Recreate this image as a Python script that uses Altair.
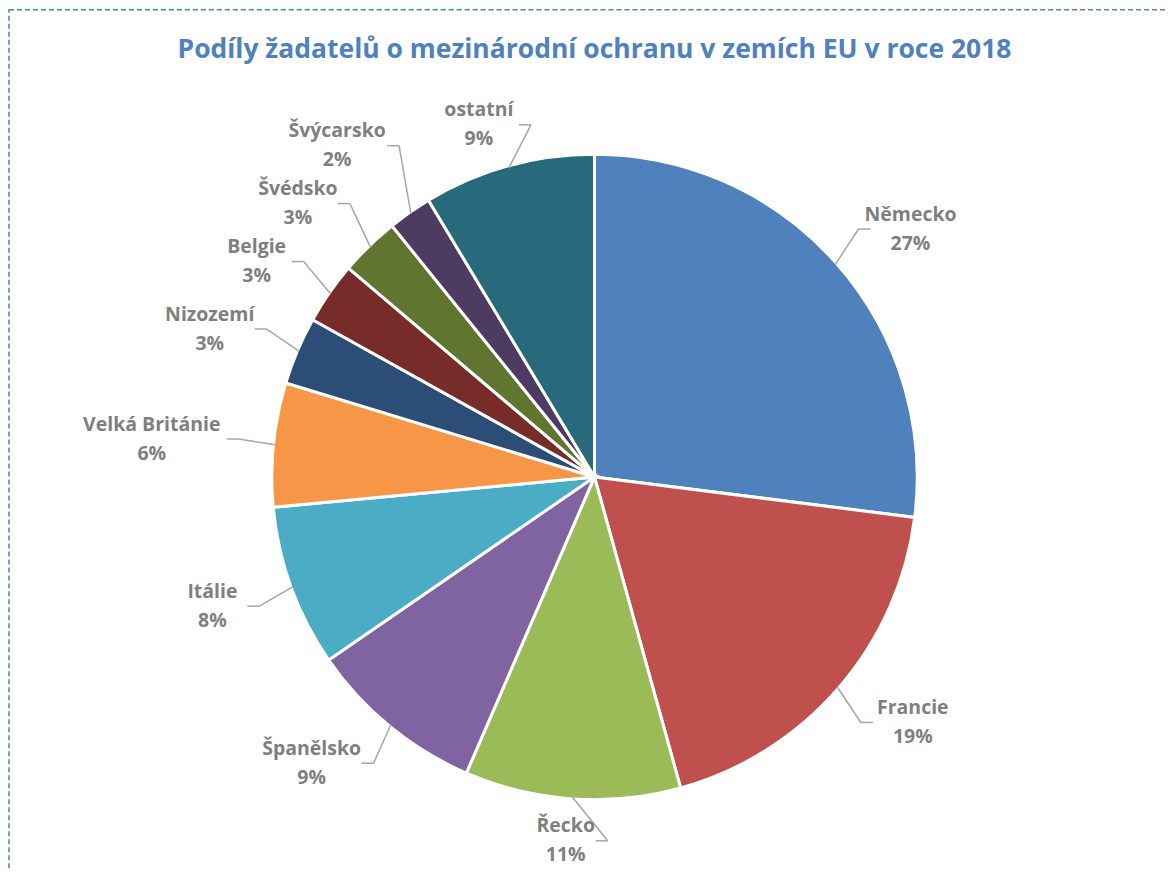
import math
import altair as alt
import pandas as pd

countries = ["Německo", "Francie", "Řecko", "Španělsko", "Itálie", "Velká Británie",
             "Nizozemí", "Belgie", "Švédsko", "Švýcarsko", "ostatní"]
shares = [27.0, 18.7, 10.8, 8.9, 8.1, 6.2, 3.4, 3.1, 3.0, 2.2, 8.6]
colors = ["#4F81BD", "#C0504D", "#9BBB59", "#8064A2", "#4BACC6", "#F79646",
          "#2C4D75", "#772C2A", "#5F7530", "#4D3B62", "#276A7C"]
title_text = "Podíly žadatelů o mezinárodní ochranu v zemích EU v roce 2018"

# layout constants (pixels inside the plot area)
CX, CY, R = 587, 469, 323
RX, RY = 375, 345
HH = 20
LH = 29
CHAR_HALF = 5.0
MIN_GAP = 58
FONT = "Open Sans"

df = pd.DataFrame({"idx": list(range(len(countries))), "country": countries, "value": shares})

# label placement derived from the values (mid-angle of each slice)
total = sum(shares)
cum = 0.0
lab_rows = []
for name, v in zip(countries, shares):
    a = 2 * math.pi * (cum + v / 2) / total
    cum += v
    s, c = math.sin(a), math.cos(a)
    hw = len(name) * CHAR_HALF
    lx = CX + RX * s + hw * s / max(abs(s), 0.6)
    ly = CY - RY * c - HH * c / max(abs(c), 0.6)
    lab_rows.append(dict(country=name, value=v, s=s, c=c, hw=hw, lx=lx, ly=ly,
                         lab=f"{name}\n{round(100 * v / total):.0f}%"))

# simple collision avoidance: push overlapping labels away from the centre vertically
for side in (-1, 1):
    for half in (-1, 1):  # -1 upper half, 1 lower half
        grp = [r for r in lab_rows if (1 if r["s"] >= 0 else -1) == side
               and (1 if r["ly"] >= CY else -1) == half]
        grp.sort(key=lambda r: abs(r["ly"] - CY))
        placed = []
        for r in grp:
            for p in placed:
                if abs(r["lx"] - p["lx"]) < r["hw"] + p["hw"]:
                    if half < 0 and r["ly"] > p["ly"] - MIN_GAP:
                        r["ly"] = p["ly"] - MIN_GAP
                    if half > 0 and r["ly"] < p["ly"] + MIN_GAP:
                        r["ly"] = p["ly"] + MIN_GAP
            placed.append(r)

labels_df = pd.DataFrame(lab_rows)

seg_rows = []
for r in lab_rows:
    side = 1 if r["s"] >= 0 else -1
    x0, y0 = CX + (R - 2) * r["s"], CY - (R - 2) * r["c"]
    xs = r["lx"] - side * (r["hw"] + 5)
    xe = xs - side * 12
    seg_rows.append(dict(x=x0, y=y0, x2=xe, y2=r["ly"]))
    seg_rows.append(dict(x=xe, y=r["ly"], x2=xs, y2=r["ly"]))
seg_df = pd.DataFrame(seg_rows)

pie = alt.Chart(df).mark_arc(outerRadius=R, stroke="white", strokeWidth=3).encode(
    theta=alt.Theta("value:Q", stack=True),
    order=alt.Order("idx:Q", sort="ascending"),
    color=alt.Color("country:N", scale=alt.Scale(domain=countries, range=colors), legend=None),
    x=alt.value(CX), y=alt.value(CY),
)

leaders = alt.Chart(seg_df).mark_rule(color="#A6A6A6", strokeWidth=1.5).encode(
    x=alt.X("x:Q", scale=None), y=alt.Y("y:Q", scale=None),
    x2="x2:Q", y2="y2:Q",
)

labels = alt.Chart(labels_df).mark_text(font=FONT, fontSize=19.5, fontWeight="bold", color="#7F7F7F",
                                        lineBreak="\n", lineHeight=LH, dy=-LH / 2,
                                        align="center", baseline="middle").encode(
    x=alt.X("lx:Q", scale=None), y=alt.Y("ly:Q", scale=None), text="lab:N",
)

title = alt.Chart(alt.Data(values=[{"t": title_text}])).mark_text(
    font=FONT, fontSize=26.5, fontWeight="bold", color="#4F81BD", align="center", baseline="middle"
).encode(x=alt.value(587), y=alt.value(42), text="t:N")

border = alt.Chart(alt.Data(values=[{"k": 1}])).mark_rect(
    fill=None, stroke="#4F81BD", strokeWidth=1.5, strokeDash=[5, 3]
).encode(x=alt.value(1), x2=alt.value(1400), y=alt.value(1.5), y2=alt.value(1400))

chart = alt.layer(border, pie, leaders, labels, title).properties(
    width=1160, height=862, padding=0,
    autosize=alt.AutoSizeParams(type="none"),
).configure_view(stroke=None)

chart.save("out.html", embed_options={"renderer": "svg", "actions": False})
